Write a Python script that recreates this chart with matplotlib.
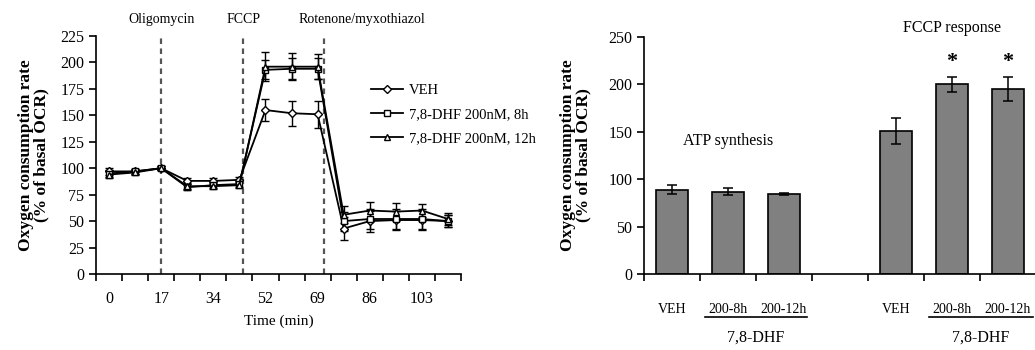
import numpy as np
import matplotlib.pyplot as plt
from matplotlib.lines import Line2D

plt.rcParams['font.family'] = ['Liberation Serif', 'DejaVu Serif']
plt.rcParams['font.size'] = 10

# time course (Seahorse-style OCR trace), % of basal
time_labels = ['0', '', '17', '', '34', '', '52', '', '69', '', '86', '', '103', '']
veh = [97, 97, 100, 88, 88, 89, 155, 152, 151, 43, 50, 51, 51, 50]
veh_err = [3, 2, 2, 3, 3, 3, 10, 12, 13, 11, 10, 9, 9, 6]
dhf8 = [95, 97, 100, 82, 84, 85, 193, 194, 194, 50, 52, 52, 52, 50]
dhf8_err = [3, 2, 2, 3, 3, 3, 9, 10, 10, 9, 9, 9, 9, 6]
dhf12 = [94, 96, 100, 83, 83, 84, 196, 196, 196, 56, 60, 59, 60, 52]
dhf12_err = [3, 2, 2, 3, 3, 3, 14, 13, 12, 8, 8, 8, 6, 6]
injections = [2.0, 5.15, 8.23]
injection_names = ['Oligomycin', 'FCCP', 'Rotenone/myxothiazol']

# summary bars
bar_labels = ['VEH', '200-8h', '200-12h', '', 'VEH', '200-8h', '200-12h']
bar_pos = [0, 1, 2, 4, 5, 6]
bar_vals = [89, 87, 84, 151, 200, 195]
bar_err = [5, 4, 1, 14, 8, 13]

ylab = 'Oxygen consumption rate\n(% of basal OCR)'

fig = plt.figure(figsize=(10.35, 3.5), dpi=100)

# ---- left panel ----
ax = fig.add_axes([96 / 1035, 1 - 274 / 350, (461 - 96) / 1035, (274 - 36) / 350])
x = np.arange(len(veh))
kw = dict(color='black', lw=1.3, capsize=3, elinewidth=1, mfc='white', mec='black')
ax.errorbar(x, veh, yerr=veh_err, marker='D', ms=4, **kw)
ax.errorbar(x, dhf8, yerr=dhf8_err, marker='s', ms=5, **kw)
ax.errorbar(x, dhf12, yerr=dhf12_err, marker='^', ms=5, **kw)
for xi in injections:
    ax.axvline(xi, color='#555555', ls=(0, (2.5, 2)), lw=1.6)
for xi, name in zip(injections, injection_names):
    xt = xi if name != 'Rotenone/myxothiazol' else xi + 1.45
    ax.text(xt, 1.07, name, transform=ax.get_xaxis_transform(), ha='center', va='center', fontsize=10)
ax.set_xlim(-0.5, len(veh) - 0.5)
ax.set_ylim(0, 225)
ax.set_yticks(np.arange(0, 226, 25))
ax.set_xticks(np.arange(-0.5, len(veh), 1))
ax.set_xticklabels([])
ax.set_xticks(x, minor=True)
ax.set_xticklabels(time_labels, minor=True)
ax.tick_params(axis='x', which='minor', length=0, pad=12, labelsize=11.5)
ax.tick_params(axis='x', which='major', direction='out', length=5, width=1.2)
ax.tick_params(axis='y', direction='out', length=5, width=1.2, labelsize=11.5)
for s in ['top', 'right']:
    ax.spines[s].set_visible(False)
for s in ['left', 'bottom']:
    ax.spines[s].set_linewidth(1.2)
ax.set_xlabel('Time (min)', fontsize=11, labelpad=6)
ax.set_ylabel(ylab, fontsize=12.5, fontweight='bold', labelpad=8, linespacing=0.95)

handles = [Line2D([], [], color='black', lw=1.3, marker=m, ms=s, mfc='white', mec='black')
           for m, s in zip(['D', 's', '^'], [4, 5, 5])]
ax.legend(handles, ['VEH', '7,8-DHF 200nM, 8h', '7,8-DHF 200nM, 12h'],
          loc='upper left', bbox_to_anchor=(365 / 1035, 1 - 78 / 350),
          bbox_transform=fig.transFigure, frameon=False, fontsize=10.5,
          handlelength=2.2, labelspacing=0.75, borderaxespad=0, handletextpad=0.4)

# ---- right panel ----
ax2 = fig.add_axes([644 / 1035, 1 - 274 / 350, (1036 - 644) / 1035, (274 - 37) / 350])
ax2.bar(bar_pos, bar_vals, width=0.56, color='#808080', edgecolor='black', lw=1.2,
        yerr=bar_err, capsize=3.5, error_kw=dict(elinewidth=1.1, capthick=1.1))
for p, v, e in zip(bar_pos, bar_vals, bar_err):
    if p in (5, 6):
        ax2.text(p, v + e + 5, '*', ha='center', va='bottom', fontsize=16, fontweight='bold')
ax2.set_xlim(-0.5, 6.5)
ax2.set_ylim(0, 250)
ax2.set_yticks(np.arange(0, 251, 50))
ax2.set_xticks(np.arange(-0.5, 7, 1))
ax2.set_xticklabels([])
ax2.set_xticks(range(len(bar_labels)), minor=True)
ax2.set_xticklabels(bar_labels, minor=True)
ax2.tick_params(axis='x', which='minor', length=0, pad=21, labelsize=10)
ax2.tick_params(axis='x', which='major', direction='out', length=5, width=1.2)
ax2.tick_params(axis='y', direction='out', length=5, width=1.2, labelsize=11.5)
for s in ['top', 'right']:
    ax2.spines[s].set_visible(False)
for s in ['left', 'bottom']:
    ax2.spines[s].set_linewidth(1.2)
ax2.set_ylabel(ylab, fontsize=12.5, fontweight='bold', labelpad=12, linespacing=0.95)
tr = ax2.get_xaxis_transform()
for x0, x1 in [(0.59, 2.41), (4.59, 6.45)]:
    ax2.plot([x0, x1], [-0.182, -0.182], color='black', lw=1.2, transform=tr, clip_on=False)
    ax2.text((x0 + x1) / 2, -0.27, '7,8-DHF', transform=tr, ha='center', va='center', fontsize=11.5)
ax2.text(1.0, 0.56, 'ATP synthesis', transform=tr, ha='center', va='center', fontsize=11.5)
ax2.text(5.0, 1.04, 'FCCP response', transform=tr, ha='center', va='center', fontsize=11.5)

fig.savefig('out.png', dpi=100)
